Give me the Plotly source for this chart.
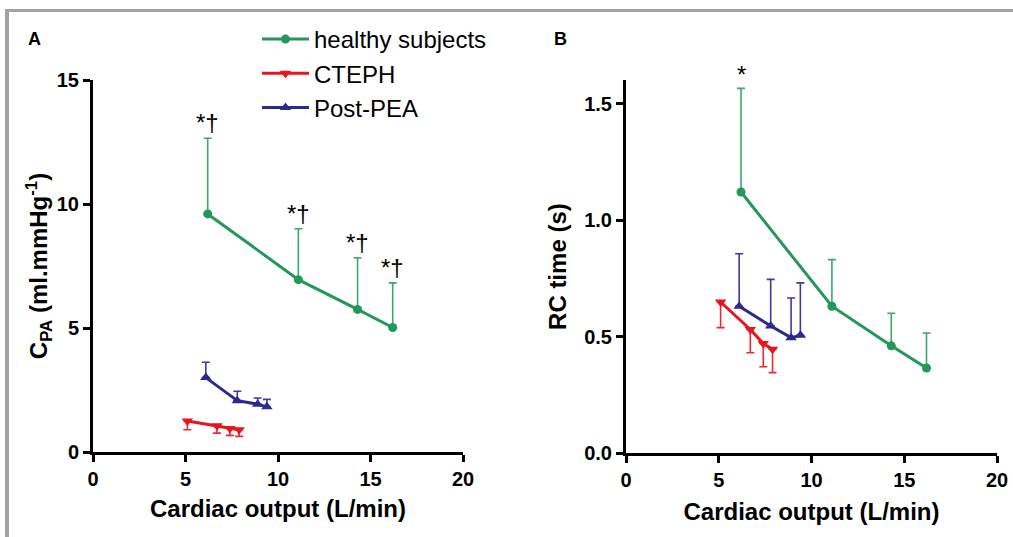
import plotly.graph_objects as go

# ---- data ----
healthy_co = [6.2, 11.1, 14.3, 16.2]
cteph_co = [5.1, 6.7, 7.4, 7.9]
postpea_co = [6.1, 7.8, 8.9, 9.4]

# Panel A: C_PA (ml/mmHg)
healthy_cpa = [9.6, 6.95, 5.75, 5.02]
healthy_cpa_err = [3.05, 2.05, 2.08, 1.8]
cteph_cpa = [1.25, 1.06, 0.95, 0.9]
cteph_cpa_err = [0.35, 0.3, 0.28, 0.27]
postpea_cpa = [3.0, 2.07, 1.93, 1.82]
postpea_cpa_err = [0.62, 0.38, 0.25, 0.3]

# Panel B: RC time (s)
healthy_rc = [1.12, 0.63, 0.46, 0.365]
healthy_rc_err = [0.445, 0.2, 0.14, 0.15]
cteph_rc = [0.648, 0.53, 0.47, 0.445]
cteph_rc_err = [0.11, 0.1, 0.1, 0.1]
postpea_rc = [0.63, 0.545, 0.495, 0.505]
postpea_rc_err = [0.225, 0.2, 0.17, 0.225]

annot_a = ["*†", "*†", "*†", "*†"]
annot_b = ["*", "", "", ""]

GREEN = "#23985a"
GREEN_E = "#3aa86c"
RED = "#e8141e"
RED_E = "#ec2a33"
NAVY = "#2c2a8c"
NAVY_E = "#3d3b9e"

W, H = 1013, 537

fig = go.Figure()


def add_series(x, y, err, up, name, color, ecolor, symbol, size, xa, ya, show):
    zeros = [0] * len(err)
    fig.add_trace(go.Scatter(
        x=x, y=y, mode="lines+markers", name=name,
        line=dict(color=color, width=3),
        marker=dict(symbol=symbol, size=size, color=color),
        error_y=dict(type="data", symmetric=False,
                     array=err if up else zeros,
                     arrayminus=zeros if up else err,
                     color=ecolor, thickness=1.6, width=4),
        xaxis=xa, yaxis=ya, showlegend=show, legendgroup=name,
    ))


add_series(healthy_co, healthy_cpa, healthy_cpa_err, True, "healthy subjects", GREEN, GREEN_E, "circle", 9, "x", "y", True)
add_series(cteph_co, cteph_cpa, cteph_cpa_err, False, "CTEPH", RED, RED_E, "triangle-down", 10, "x", "y", True)
add_series(postpea_co, postpea_cpa, postpea_cpa_err, True, "Post-PEA", NAVY, NAVY_E, "triangle-up", 10, "x", "y", True)

add_series(healthy_co, healthy_rc, healthy_rc_err, True, "healthy subjects", GREEN, GREEN_E, "circle", 9, "x2", "y2", False)
add_series(cteph_co, cteph_rc, cteph_rc_err, False, "CTEPH", RED, RED_E, "triangle-down", 10, "x2", "y2", False)
add_series(postpea_co, postpea_rc, postpea_rc_err, True, "Post-PEA", NAVY, NAVY_E, "triangle-up", 10, "x2", "y2", False)

annotations = []
for xv, yv, ev, t in zip(healthy_co, healthy_cpa, healthy_cpa_err, annot_a):
    if t:
        annotations.append(dict(x=xv, y=yv + ev, xref="x", yref="y", text=t, showarrow=False,
                                yanchor="bottom", yshift=0, xshift=0,
                                font=dict(family="Liberation Sans, Arial", size=24, color="black")))
for xv, yv, ev, t in zip(healthy_co, healthy_rc, healthy_rc_err, annot_b):
    if t:
        annotations.append(dict(x=xv, y=yv + ev, xref="x2", yref="y2", text=t, showarrow=False,
                                yanchor="bottom", yshift=-2,
                                font=dict(family="Liberation Sans, Arial", size=24, color="black")))

annotations.append(dict(x=34 / W, y=1 - 39 / H, xref="paper", yref="paper", text="<b>A</b>",
                        showarrow=False, xanchor="center", yanchor="middle",
                        font=dict(family="Liberation Sans, Arial", size=18, color="black")))
annotations.append(dict(x=560 / W, y=1 - 39 / H, xref="paper", yref="paper", text="<b>B</b>",
                        showarrow=False, xanchor="center", yanchor="middle",
                        font=dict(family="Liberation Sans, Arial", size=18, color="black")))

axis_common = dict(showline=True, linecolor="black", linewidth=3, showgrid=False, zeroline=False,
                   ticks="outside", ticklen=7, tickwidth=2.5, tickcolor="black", automargin=False,
                   tickfont=dict(family="Liberation Sans, Arial", size=20, color="black", weight="bold"),
                   fixedrange=True)
title_font = dict(family="Liberation Sans, Arial", size=24, color="black", weight="bold")

fig.update_layout(
    width=W, height=H,
    margin=dict(l=0, r=0, t=0, b=0, pad=0, autoexpand=False),
    paper_bgcolor="white", plot_bgcolor="white",
    xaxis=dict(domain=[93 / W, 463 / W], range=[0, 20], tickvals=[0, 5, 10, 15, 20], anchor="y",
               title=dict(text="Cardiac output (L/min)", font=title_font, standoff=12), **axis_common),
    yaxis=dict(domain=[1 - 452 / H, 1 - 80 / H], range=[0, 15], tickvals=[0, 5, 10, 15], anchor="x",
               title=dict(text="C<sub>PA</sub> (ml.mmHg<sup>-1</sup>)", font=title_font, standoff=3), **axis_common),
    xaxis2=dict(domain=[626 / W, 997 / W], range=[0, 20], tickvals=[0, 5, 10, 15, 20], anchor="y2",
                title=dict(text="Cardiac output (L/min)", font=title_font, standoff=14), **axis_common),
    yaxis2=dict(domain=[1 - 453 / H, 1 - 80.2 / H], range=[0, 1.6], tickvals=[0, 0.5, 1.0, 1.5],
                tickformat=".1f", anchor="x2",
                title=dict(text="RC time (s)", font=title_font, standoff=11), **axis_common),
    legend=dict(x=257 / W, y=1 - 17 / H, xanchor="left", yanchor="top",
                font=dict(family="Liberation Sans, Arial", size=24, color="black"),
                bgcolor="rgba(0,0,0,0)", tracegroupgap=0, itemwidth=47),
    annotations=annotations,
    shapes=[
        dict(type="line", xref="paper", yref="paper", x0=5 / W, x1=1, y0=1 - 10.5 / H, y1=1 - 10.5 / H,
             line=dict(color="#a2a2a4", width=3)),
        dict(type="line", xref="paper", yref="paper", x0=7 / W, x1=7 / W, y0=0, y1=1 - 9 / H,
             line=dict(color="#a2a2a4", width=4)),
    ],
    showlegend=True,
)

fig.write_html("out.html")
